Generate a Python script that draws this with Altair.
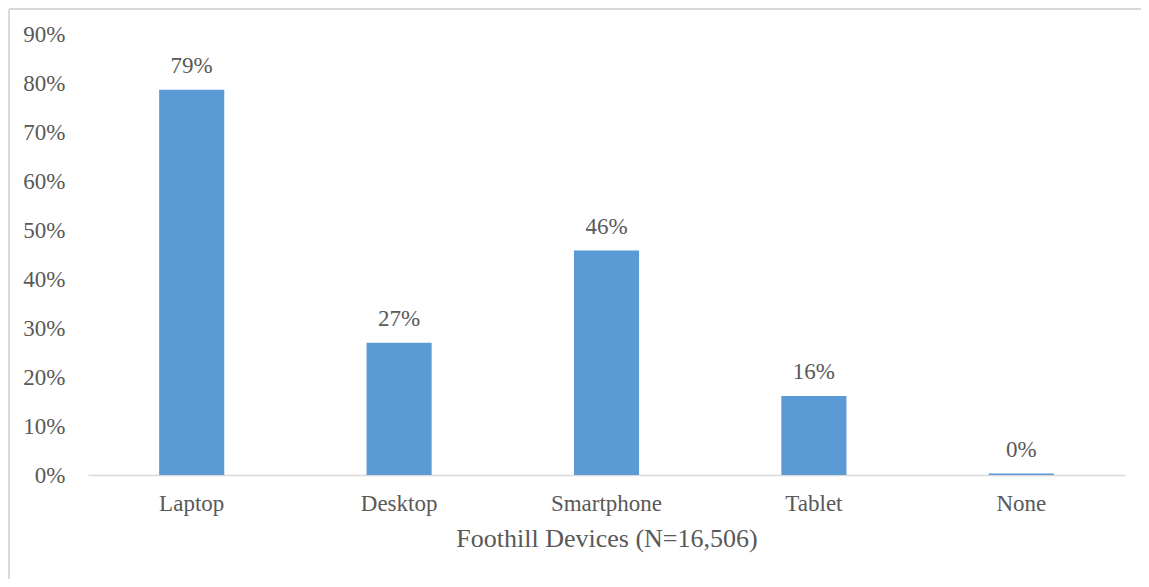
import altair as alt
import pandas as pd

categories = ["Laptop", "Desktop", "Smartphone", "Tablet", "None"]
values = [0.786, 0.270, 0.458, 0.161, 0.003]
labels = ["79%", "27%", "46%", "16%", "0%"]

df = pd.DataFrame({"device": categories, "share": values, "label": labels})

W, H = 1037, 441
FONT = "Liberation Serif"
TXT = "#595959"

x_enc = alt.X("device:N", sort=categories,
              scale=alt.Scale(paddingInner=0.686, paddingOuter=0.343),
              axis=alt.Axis(title="Foothill Devices (N=16,506)", labelAngle=0,
                            ticks=False, domainColor="#d9d9d9", domainWidth=1.5,
                            labelPadding=17, titlePadding=10,
                            labelFont=FONT, labelFontSize=23, labelColor=TXT,
                            titleFont=FONT, titleFontSize=26, titleColor=TXT,
                            titleFontWeight="normal"))
y_enc = alt.Y("share:Q", scale=alt.Scale(domain=[0, 0.9], nice=False),
              axis=alt.Axis(values=[i / 10 for i in range(10)], format=".0%",
                            title=None, grid=False, domain=False, ticks=False,
                            labelPadding=23, labelFont=FONT, labelFontSize=23,
                            labelColor=TXT))

bars = alt.Chart(df).mark_bar(color="#5B9BD5").encode(x=x_enc, y=y_enc)
text = alt.Chart(df).mark_text(font=FONT, fontSize=23, color=TXT, baseline="alphabetic",
                               dy=-17).encode(
    x=alt.X("device:N", sort=categories), y="share:Q", text="label:N")

top_line = alt.Chart(df).mark_rule(color="#d9d9d9", strokeWidth=1.5).encode(
    x=alt.value(-79), x2=alt.value(W + 16), y=alt.value(-25))
left_line = alt.Chart(df).mark_rule(color="#d9d9d9", strokeWidth=1.5).encode(
    x=alt.value(-79), y=alt.value(-25), y2=alt.value(H + 104))

chart = alt.layer(top_line, left_line, bars, text).properties(
    width=W, height=H,
    autosize=alt.AutoSizeParams(type="none"),
    padding={"left": 80, "top": 26, "right": 16, "bottom": 104},
    background="white",
).configure_view(stroke=None, strokeWidth=0)

chart.save("out.html", embed_options={"renderer": "svg", "actions": False})
